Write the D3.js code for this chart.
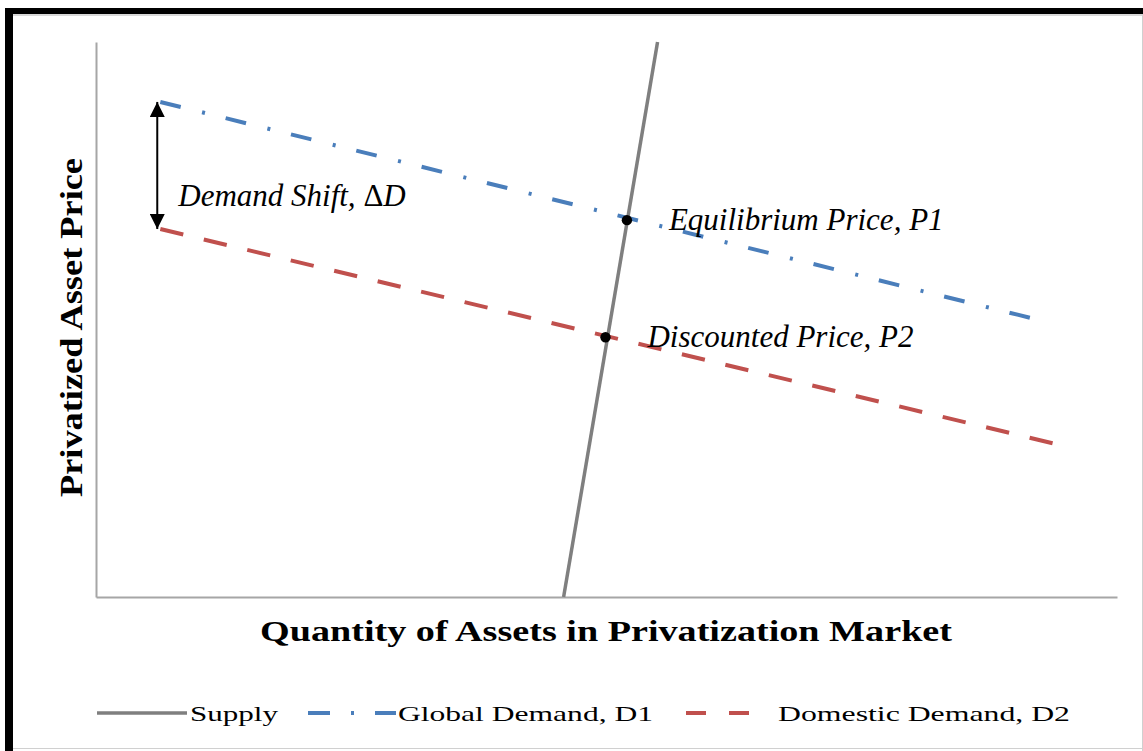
<!DOCTYPE html>
<html>
<head>
<meta charset="utf-8">
<script src="https://cdn.jsdelivr.net/npm/d3@7"></script>
<style>
  body { margin: 0; background: #fff; }
  svg { display: block; font-family: "Times New Roman", "Liberation Serif", serif; }
</style>
</head>
<body>
<div id="chart"></div>
<script>
var width = 1143,
    height = 751;

// quantity / price pairs (0..10 on both axes)
var supply = [[4.58, 0], [5.50, 10]];
var globalDemand = [[0.63, 8.92], [9.15, 5.03]];
var domesticDemand = [[0.63, 6.63], [9.37, 2.77]];

var pointNames = ['Equilibrium Price, P1', 'Discounted Price, P2'];
var pointQ = [5.20, 4.99];
var pointP = [6.79, 4.68];

var shiftQ = 0.60;
var shiftLabel = ['Demand Shift, ', '\u0394', 'D'];

var legendNames = ['Supply', 'Global Demand, D1', 'Domestic Demand, D2'];
var xTitle = 'Quantity of Assets in Privatization Market';
var yTitle = 'Privatized Asset Price';

var x = d3.scaleLinear().domain([0, 10]).range([96, 1117]);
var y = d3.scaleLinear().domain([0, 10]).range([597, 42]);

var svg = d3.select('#chart').append('svg')
    .attr('width', width)
    .attr('height', height);

// frame: heavy black top / left, thin grey right / bottom
svg.append('rect').attr('x', 5).attr('y', 14).attr('width', 1138).attr('height', 2).attr('fill', '#d8d8d8');
svg.append('rect').attr('x', 5).attr('y', 8).attr('width', 1138).attr('height', 6).attr('fill', '#000');
svg.append('rect').attr('x', 5).attr('y', 8).attr('width', 8).attr('height', 743).attr('fill', '#000');
svg.append('line').attr('x1', 1142.5).attr('x2', 1142.5).attr('y1', 14).attr('y2', 751).attr('stroke', '#d0d0d0');
svg.append('line').attr('x1', 13).attr('x2', 1143).attr('y1', 748.5).attr('y2', 748.5).attr('stroke', '#d0d0d0');

// axes (no ticks, just the domain lines)
svg.append('g')
    .attr('transform', 'translate(0,' + y(0) + ')')
    .call(d3.axisBottom(x).tickValues([]).tickSizeOuter(0));
svg.append('g')
    .attr('transform', 'translate(' + x(0) + ',0)')
    .call(d3.axisLeft(y).tickValues([]).tickSizeOuter(0));
svg.selectAll('.domain').attr('stroke', '#a6a6a6').attr('stroke-width', 2);

var line = d3.line()
    .x(function (d) { return x(d[0]); })
    .y(function (d) { return y(d[1]); });

svg.append('path')
    .datum(domesticDemand)
    .attr('d', line)
    .attr('fill', 'none')
    .attr('stroke', '#c0504d')
    .attr('stroke-width', 4)
    .attr('stroke-dasharray', '23.6,21.1');

svg.append('path')
    .datum(globalDemand)
    .attr('d', line)
    .attr('fill', 'none')
    .attr('stroke', '#4a7ebb')
    .attr('stroke-width', 4)
    .attr('stroke-dasharray', '21,22,3,21.3');

svg.append('path')
    .datum(supply)
    .attr('d', line)
    .attr('fill', 'none')
    .attr('stroke', '#7f7f7f')
    .attr('stroke-width', 3.5);

// equilibrium points + labels
svg.selectAll('circle.pt')
    .data(pointQ)
    .enter().append('circle')
    .attr('class', 'pt')
    .attr('cx', function (d) { return x(d); })
    .attr('cy', function (d, i) { return y(pointP[i]); })
    .attr('r', 5.2)
    .attr('fill', '#000');

svg.selectAll('text.pt')
    .data(pointNames)
    .enter().append('text')
    .attr('class', 'pt')
    .attr('x', function (d, i) { return x(pointQ[i]) + 42; })
    .attr('y', function (d, i) { return y(pointP[i]) + 10; })
    .attr('font-style', 'italic')
    .attr('font-size', 31)
    .attr('fill', '#000')
    .text(function (d) { return d; });

// demand shift arrow
var defs = svg.append('defs');
defs.append('marker')
    .attr('id', 'head')
    .attr('markerUnits', 'userSpaceOnUse')
    .attr('viewBox', '0 0 16 15')
    .attr('refX', 15)
    .attr('refY', 7.5)
    .attr('markerWidth', 16)
    .attr('markerHeight', 15)
    .attr('orient', 'auto-start-reverse')
    .append('path')
    .attr('d', 'M0,0L15,7.5L0,15Z')
    .attr('fill', '#000');

svg.append('line')
    .attr('x1', x(shiftQ)).attr('x2', x(shiftQ))
    .attr('y1', y(globalDemand[0][1])).attr('y2', y(domesticDemand[0][1]))
    .attr('stroke', '#000')
    .attr('stroke-width', 2)
    .attr('marker-start', 'url(#head)')
    .attr('marker-end', 'url(#head)');

var shiftText = svg.append('text')
    .attr('x', x(shiftQ) + 21)
    .attr('y', 206)
    .attr('font-style', 'italic')
    .attr('font-size', 31);
shiftText.selectAll('tspan')
    .data(shiftLabel)
    .enter().append('tspan')
    .attr('font-style', function (d, i) { return i === 1 ? 'normal' : 'italic'; })
    .text(function (d) { return d; });

// axis titles
svg.append('text')
    .attr('x', 260)
    .attr('y', 641)
    .attr('font-weight', 'bold')
    .attr('font-size', 29)
    .attr('textLength', 692)
    .attr('lengthAdjust', 'spacingAndGlyphs')
    .text(xTitle);

svg.append('text')
    .attr('transform', 'translate(82,497) rotate(-90)')
    .attr('font-weight', 'bold')
    .attr('font-size', 32)
    .attr('textLength', 339)
    .attr('lengthAdjust', 'spacingAndGlyphs')
    .text(yTitle);

// legend
var legY = 713;
var legend = svg.append('g');

legend.append('line')
    .attr('x1', 97).attr('x2', 187)
    .attr('y1', legY).attr('y2', legY)
    .attr('stroke', '#7f7f7f').attr('stroke-width', 3.5);

legend.append('line')
    .attr('x1', 308).attr('x2', 396)
    .attr('y1', legY).attr('y2', legY)
    .attr('stroke', '#4a7ebb').attr('stroke-width', 4)
    .attr('stroke-dasharray', '22,21,3,21');

legend.append('line')
    .attr('x1', 686).attr('x2', 751)
    .attr('y1', legY).attr('y2', legY)
    .attr('stroke', '#c0504d').attr('stroke-width', 4)
    .attr('stroke-dasharray', '20,23');

var legX = [190, 398, 778];
var legW = [88, 255, 292];
legend.selectAll('text')
    .data(legendNames)
    .enter().append('text')
    .attr('x', function (d, i) { return legX[i]; })
    .attr('y', 721)
    .attr('font-size', 22)
    .attr('textLength', function (d, i) { return legW[i]; })
    .attr('lengthAdjust', 'spacingAndGlyphs')
    .text(function (d) { return d; });
</script>
</body>
</html>
